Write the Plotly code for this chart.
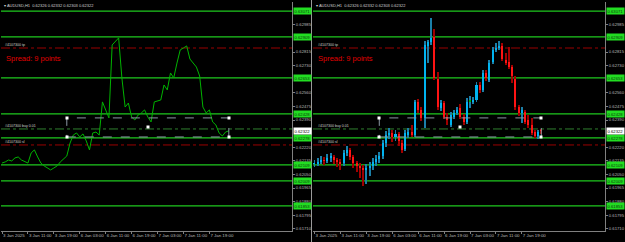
import plotly.graph_objects as go

# ---------------- data ----------------
bars = list(range(71))
opens = [0.62115, 0.62121, 0.62128, 0.62140, 0.62134, 0.62153, 0.62159, 0.62140, 0.62128, 0.62121,
         0.62184, 0.62203, 0.62159, 0.62121, 0.62103, 0.62090, 0.62078, 0.62090, 0.62103, 0.62128,
         0.62146, 0.62165, 0.62246, 0.62296, 0.62309, 0.62284, 0.62303, 0.62246, 0.62209, 0.62296,
         0.62315, 0.62296, 0.62503, 0.62453, 0.62403, 0.62853, 0.62878, 0.62909, 0.62646, 0.62465,
         0.62496, 0.62409, 0.62359, 0.62409, 0.62434, 0.62465, 0.62409, 0.62378, 0.62509, 0.62503,
         0.62515, 0.62609, 0.62578, 0.62684, 0.62640, 0.62753, 0.62828, 0.62840, 0.62853, 0.62765,
         0.62753, 0.62721, 0.62646, 0.62471, 0.62434, 0.62440, 0.62390, 0.62359, 0.62315, 0.62290,
         0.62326]
highs = [0.62140, 0.62153, 0.62165, 0.62159, 0.62178, 0.62184, 0.62171, 0.62153, 0.62146, 0.62203,
         0.62228, 0.62215, 0.62171, 0.62134, 0.62121, 0.62109, 0.62115, 0.62128, 0.62153, 0.62171,
         0.62190, 0.62265, 0.62321, 0.62340, 0.62328, 0.62328, 0.62315, 0.62265, 0.62328, 0.62340,
         0.62359, 0.62515, 0.62521, 0.62471, 0.62884, 0.62890, 0.63028, 0.62959, 0.62690, 0.62515,
         0.62509, 0.62434, 0.62440, 0.62453, 0.62471, 0.62490, 0.62428, 0.62528, 0.62540, 0.62534,
         0.62628, 0.62628, 0.62703, 0.62703, 0.62765, 0.62846, 0.62871, 0.62884, 0.62871, 0.62809,
         0.62846, 0.62734, 0.62665, 0.62484, 0.62471, 0.62453, 0.62421, 0.62403, 0.62328, 0.62328,
         0.62332]
lows = [0.62096, 0.62103, 0.62115, 0.62109, 0.62121, 0.62128, 0.62115, 0.62096, 0.62078, 0.62103,
        0.62165, 0.62140, 0.62090, 0.62065, 0.62028, 0.61978, 0.61990, 0.62040, 0.62078, 0.62103,
        0.62121, 0.62146, 0.62221, 0.62271, 0.62253, 0.62259, 0.62228, 0.62184, 0.62196, 0.62278,
        0.62284, 0.62284, 0.62434, 0.62384, 0.62340, 0.62746, 0.62859, 0.62640, 0.62453, 0.62446,
        0.62396, 0.62359, 0.62346, 0.62396, 0.62421, 0.62396, 0.62359, 0.62365, 0.62465, 0.62490,
        0.62503, 0.62559, 0.62565, 0.62634, 0.62628, 0.62740, 0.62815, 0.62828, 0.62759, 0.62734,
        0.62709, 0.62621, 0.62453, 0.62415, 0.62371, 0.62365, 0.62340, 0.62296, 0.62278, 0.62271,
        0.62303]
closes = [0.62121, 0.62128, 0.62140, 0.62134, 0.62153, 0.62159, 0.62140, 0.62128, 0.62121, 0.62184,
          0.62203, 0.62159, 0.62121, 0.62103, 0.62090, 0.62078, 0.62090, 0.62103, 0.62128, 0.62146,
          0.62165, 0.62246, 0.62296, 0.62309, 0.62284, 0.62303, 0.62259, 0.62203, 0.62309, 0.62315,
          0.62296, 0.62503, 0.62453, 0.62403, 0.62859, 0.62878, 0.62903, 0.62653, 0.62471, 0.62496,
          0.62409, 0.62390, 0.62421, 0.62434, 0.62453, 0.62409, 0.62378, 0.62503, 0.62509, 0.62515,
          0.62609, 0.62578, 0.62684, 0.62653, 0.62746, 0.62828, 0.62840, 0.62853, 0.62771, 0.62746,
          0.62721, 0.62665, 0.62471, 0.62434, 0.62453, 0.62378, 0.62359, 0.62309, 0.62290, 0.62315,
          0.62322]

date_ticks = [0, 8, 16, 24, 32, 40, 48, 56, 64]
date_labels = ["3 Jan 2025", "3 Jan 11:00", "3 Jan 19:00", "6 Jan 03:00", "6 Jan 11:00",
               "6 Jan 19:00", "7 Jan 03:00", "7 Jan 11:00", "7 Jan 19:00"]
# visible price-scale labels (the others are hidden under the level boxes)
price_ticks = [0.62985, 0.62815, 0.62730, 0.62560, 0.62475, 0.62390,
               0.62220, 0.62135, 0.62050, 0.61965, 0.61880, 0.61795, 0.61710]
price_labels = ["%.5f" % v for v in price_ticks]

level_prices = [0.63071, 0.62909, 0.62653, 0.62428, 0.62278, 0.62109, 0.62009, 0.61853]
tp_price = 0.62840
sl_price = 0.62234
entry_price = 0.62334
current_price = 0.62322
box_bars = [20, 70]
box_prices = [0.62403, 0.62284]
title_text = "AUDUSD,H1  0.62326 0.62332 0.62303 0.62322"
spread_text = "Spread: 9 points"
order_id = "#4107300"

# ---------------- style ----------------
BG = "#000000"
AX = "#808080"
TXT = "#b8b8b8"
LVL = "#1ec81e"
FONT = "Liberation Sans"
y_range = [0.6169625, 0.631275]
ydom = [11 / 242, 240 / 242]

fig = go.Figure()

# left: line chart
fig.add_trace(go.Scatter(x=bars, y=closes, mode="lines", line=dict(color="#00b400", width=1),
                         xaxis="x", yaxis="y", hoverinfo="skip"))

# right: candles built from bars
up_x, up_b, up_h, dn_x, dn_b, dn_h, dj_x, dj_b = [], [], [], [], [], [], [], []
wu_x, wu_b, wu_h, wd_x, wd_b, wd_h = [], [], [], [], [], []
for i, o, h, l, c in zip(bars, opens, highs, lows, closes):
    if c > o:
        up_x.append(i); up_b.append(o); up_h.append(c - o)
        wu_x.append(i); wu_b.append(l); wu_h.append(h - l)
    elif c < o:
        dn_x.append(i); dn_b.append(c); dn_h.append(o - c)
        wd_x.append(i); wd_b.append(l); wd_h.append(h - l)
    else:
        dj_x.append(i); dj_b.append(c - 0.00002)
        wu_x.append(i); wu_b.append(l); wu_h.append(h - l)

fig.add_trace(go.Bar(x=wu_x, base=wu_b, y=wu_h, width=0.3, marker=dict(color="#1b7fa8", line_width=0),
                     xaxis="x2", yaxis="y2", hoverinfo="skip"))
fig.add_trace(go.Bar(x=wd_x, base=wd_b, y=wd_h, width=0.3, marker=dict(color="#a00000", line_width=0),
                     xaxis="x2", yaxis="y2", hoverinfo="skip"))
fig.add_trace(go.Bar(x=up_x, base=up_b, y=up_h, width=0.62, marker=dict(color="#00b4f0", line_width=0),
                     xaxis="x2", yaxis="y2", hoverinfo="skip"))
fig.add_trace(go.Bar(x=dn_x, base=dn_b, y=dn_h, width=0.62, marker=dict(color="#ff1414", line_width=0),
                     xaxis="x2", yaxis="y2", hoverinfo="skip"))
fig.add_trace(go.Bar(x=dj_x, base=dj_b, y=[0.00004] * len(dj_x), width=0.62,
                     marker=dict(color="#00b400", line_width=0), xaxis="x2", yaxis="y2", hoverinfo="skip"))

shapes = []
annotations = []
panels = [("x", "y"), ("x2", "y2")]
for xa, ya in panels:
    dom = f"{xa} domain"
    for lv in level_prices:
        shapes.append(dict(type="line", xref=dom, yref=ya, x0=0, x1=1, y0=lv, y1=lv,
                           line=dict(color=LVL, width=1.3), layer="below"))
        annotations.append(dict(xref=dom, yref=ya, x=1, y=lv, xanchor="left", yanchor="middle", xshift=1,
                                text="%.5f" % lv, showarrow=False, bgcolor="#22dd22", borderpad=0.5,
                                font=dict(size=4.2, color="#0a3a0a", family=FONT)))
    for pr, col in [(tp_price, "#9a0000"), (sl_price, "#9a0000"), (entry_price, "#2f7f2f")]:
        shapes.append(dict(type="line", xref=dom, yref=ya, x0=0, x1=1, y0=pr, y1=pr,
                           line=dict(color=col, width=1, dash="dashdot"), layer="below"))
    # rectangle
    shapes.append(dict(type="rect", xref=xa, yref=ya, x0=box_bars[0], x1=box_bars[1],
                       y0=box_prices[1], y1=box_prices[0],
                       line=dict(color="#8a98a4", width=1, dash="dash"), layer="above"))
    for bx in box_bars:
        for by in box_prices:
            annotations.append(dict(xref=xa, yref=ya, x=bx, y=by, text="", showarrow=False,
                                    width=2, height=2, borderpad=0, bgcolor="#ffffff"))
    annotations.append(dict(xref=xa, yref=ya, x=(box_bars[0] + box_bars[1]) / 2,
                            y=(box_prices[0] + box_prices[1]) / 2, text="", showarrow=False,
                            width=2, height=2, borderpad=0, bgcolor="#ffffff"))
    # order labels
    for txt, pr in [(order_id + " tp", tp_price), (order_id + " buy 0.01", entry_price),
                    (order_id + " sl", sl_price)]:
        annotations.append(dict(xref=dom, yref=ya, x=0.012, y=pr, xanchor="left", yanchor="bottom",
                                text=txt, showarrow=False, yshift=0, borderpad=0,
                                font=dict(size=3.6, color="#d0d0d0", family=FONT)))
    annotations.append(dict(xref=dom, yref="paper", x=0.015, y=(242 - 59) / 242, xanchor="left",
                            yanchor="middle", text=spread_text, showarrow=False, borderpad=0,
                            font=dict(size=7.5, color="#e00000", family=FONT)))
    annotations.append(dict(xref=dom, yref=ya, x=1, y=current_price, xanchor="left", yanchor="middle",
                            xshift=1, text="%.5f" % current_price, showarrow=False, bgcolor="#ffffff",
                            borderpad=0.5, font=dict(size=4.2, color="#000000", family=FONT)))
    annotations.append(dict(xref=dom, yref="paper", x=0.0, y=1 - 5 / 242, xanchor="left",
                            yanchor="middle", xshift=2, text="▾ " + title_text, showarrow=False,
                            borderpad=0, font=dict(size=4, color="#d0d0d0", family=FONT)))

# window separator
shapes.append(dict(type="line", xref="paper", yref="paper", x0=311.5 / 625, x1=311.5 / 625, y0=0, y1=1,
                   line=dict(color="#9a9a9a", width=1)))

def xaxis(dom, rng, anchor):
    return dict(domain=dom, range=rng, anchor=anchor, tickvals=date_ticks, ticktext=date_labels,
                tickfont=dict(size=4.4, color=TXT, family=FONT), ticks="outside", ticklen=2,
                tickcolor=AX, showline=True, linecolor=AX, linewidth=1, showgrid=False,
                zeroline=False, ticklabelposition="outside right", tickangle=0,
                automargin=False, fixedrange=True)

def yaxis(anchor):
    return dict(domain=ydom, range=y_range, anchor=anchor, side="right", tickvals=price_ticks,
                ticktext=price_labels, tickfont=dict(size=4.2, color=TXT, family=FONT), ticks="outside",
                ticklen=2, tickcolor=AX, showline=True, linecolor=AX, linewidth=1, showgrid=False,
                zeroline=False, automargin=False, fixedrange=True)

fig.update_layout(
    template="none",
    width=625, height=242, margin=dict(l=0, r=0, t=0, b=0, pad=0),
    paper_bgcolor=BG, plot_bgcolor=BG, showlegend=False, barmode="overlay", bargap=0,
    xaxis=xaxis([1 / 625, 292 / 625], [-0.31, 89.5], "y"),
    yaxis=yaxis("x"),
    xaxis2=xaxis([313 / 625, 605 / 625], [-0.46, 89.66], "y2"),
    yaxis2=yaxis("x2"),
    shapes=shapes, annotations=annotations,
)

fig.write_html("out.html")
